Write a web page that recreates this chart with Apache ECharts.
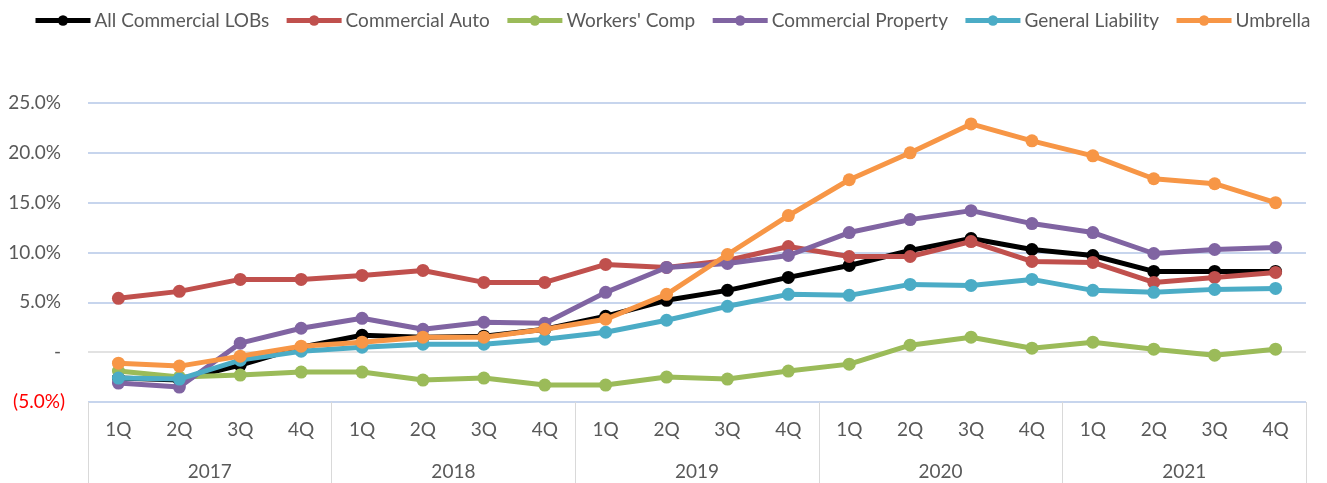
<!DOCTYPE html>
<html>
<head>
<meta charset="utf-8">
<script src="https://cdn.jsdelivr.net/npm/echarts@6/dist/echarts.min.js"></script>
<style>
html, body { margin: 0; padding: 0; background: #fff; }
#chart { width: 1327px; height: 483px; }
</style>
</head>
<body>
<div id="chart"></div>
<script>
var quarters = ['1Q','2Q','3Q','4Q','1Q','2Q','3Q','4Q','1Q','2Q','3Q','4Q','1Q','2Q','3Q','4Q','1Q','2Q','3Q','4Q'];
var years = ['2017','2018','2019','2020','2021'];

// % change
var allLobs      = [-2.6, -2.8, -1.3, 0.5,  1.7, 1.5, 1.6, 2.3,  3.6, 5.2, 6.2, 7.5,  8.7, 10.2, 11.4, 10.3,  9.7, 8.1, 8.1, 8.1];
var commAuto     = [5.4, 6.1, 7.3, 7.3,  7.7, 8.2, 7.0, 7.0,  8.8, 8.5, 9.2, 10.6,  9.6, 9.6, 11.1, 9.1,  9.0, 7.0, 7.5, 8.0];
var workersComp  = [-1.9, -2.5, -2.3, -2.0,  -2.0, -2.8, -2.6, -3.3,  -3.3, -2.5, -2.7, -1.9,  -1.2, 0.7, 1.5, 0.4,  1.0, 0.3, -0.3, 0.3];
var commProperty = [-3.1, -3.5, 0.9, 2.4,  3.4, 2.3, 3.0, 2.9,  6.0, 8.5, 8.9, 9.7,  12.0, 13.3, 14.2, 12.9,  12.0, 9.9, 10.3, 10.5];
var genLiability = [-2.6, -2.7, -0.8, 0.1,  0.5, 0.8, 0.8, 1.3,  2.0, 3.2, 4.6, 5.8,  5.7, 6.8, 6.7, 7.3,  6.2, 6.0, 6.3, 6.4];
var umbrella     = [-1.1, -1.4, -0.4, 0.6,  1.0, 1.5, 1.5, 2.3,  3.3, 5.8, 9.8, 13.7,  17.3, 20.0, 22.9, 21.2,  19.7, 17.4, 16.9, 15.0];

var names  = ['All Commercial LOBs','Commercial Auto',"Workers' Comp",'Commercial Property','General Liability','Umbrella'];
var values = [allLobs, commAuto, workersComp, commProperty, genLiability, umbrella];
var colors = ['#000000','#c0504d','#9bbb59','#8064a2','#4bacc6','#f79646'];

var FONT = 'Lato';
var TXT = '#595959';
var FS = 19;

var myChart = echarts.init(document.getElementById('chart'));

var series = [];
for (var i = 0; i < names.length; i++) {
    series.push({
        name: names[i],
        type: 'line',
        data: values[i],
        symbol: 'circle',
        symbolSize: 13,
        lineStyle: { width: 5, color: colors[i] },
        itemStyle: { color: colors[i] },
        z: 2 + i
    });
}

var option = {
    animation: false,
    backgroundColor: '#fff',
    color: colors,
    legend: {
        top: 6,
        left: 28,
        itemWidth: 55,
        itemHeight: 13,
        itemGap: 15,
        lineStyle: { width: 5 },
        textStyle: { fontFamily: FONT, fontSize: FS, color: TXT, padding: [0, 0, 0, -1] },
        data: names
    },
    grid: { left: 88, right: 21, top: 103, bottom: 81 },
    xAxis: [{
        type: 'category',
        data: quarters,
        boundaryGap: true,
        axisLine: { show: false },
        axisTick: { show: false },
        axisLabel: { margin: 18, interval: 0, fontFamily: FONT, fontSize: FS, color: TXT }
    }, {
        type: 'category',
        data: years,
        position: 'bottom',
        boundaryGap: true,
        axisLine: { show: false },
        axisTick: { show: true, interval: 0, length: 81, lineStyle: { color: '#d9d9d9', width: 1 } },
        axisLabel: { margin: 60, interval: 0, fontFamily: FONT, fontSize: FS, color: TXT }
    }],
    yAxis: {
        type: 'value',
        min: -5,
        max: 25,
        interval: 5,
        axisLine: { show: false },
        axisTick: { show: false },
        axisLabel: {
            margin: 23,
            fontFamily: FONT,
            fontSize: FS,
            color: TXT,
            formatter: function (v) {
                if (v === 0) return '{pos|-}';
                if (v < 0) return '{neg|(' + Math.abs(v).toFixed(1) + '%)}';
                return '{pos|' + v.toFixed(1) + '%}';
            },
            rich: {
                neg: { color: '#ff0000', fontFamily: FONT, fontSize: FS },
                pos: { color: TXT, fontFamily: FONT, fontSize: FS, padding: [0, 4, 0, 0] }
            }
        },
        splitLine: {
            lineStyle: {
                width: 1.5,
                color: ['#b4c7e7','#d9d9d9','#b4c7e7','#b4c7e7','#b4c7e7','#b4c7e7','#b4c7e7']
            }
        }
    },
    series: series
};

myChart.setOption(option);
</script>
</body>
</html>
